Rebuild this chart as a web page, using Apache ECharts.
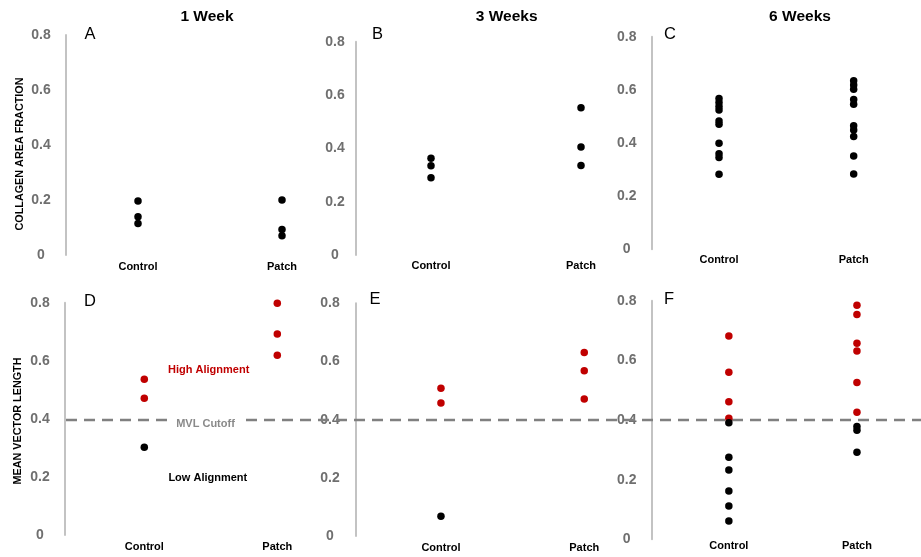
<!DOCTYPE html>
<html>
<head>
<meta charset="utf-8">
<title>Collagen area fraction and mean vector length</title>
<script src="https://cdn.jsdelivr.net/npm/echarts@6/dist/echarts.min.js"></script>
<style>
  html, body { margin: 0; padding: 0; background: #fff; }
  #chart { width: 921px; height: 557px; }
</style>
</head>
<body>
<div id="chart"></div>
<script>
// ---- data ----
const categories = ['Control', 'Patch'];
const weekTitles = ['1 Week', '3 Weeks', '6 Weeks'];
const panelLetters = ['A', 'B', 'C', 'D', 'E', 'F'];
const yTicks = [0, 0.2, 0.4, 0.6, 0.8];
const cutoff = 0.4;

// collagen area fraction (top row)
const collagenWeek1Control = [0.196, 0.139, 0.115];
const collagenWeek1Patch   = [0.200, 0.093, 0.070];
const collagenWeek3Control = [0.363, 0.335, 0.290];
const collagenWeek3Patch   = [0.552, 0.405, 0.336];
const collagenWeek6Control = [0.567, 0.552, 0.537, 0.524, 0.483, 0.471, 0.399, 0.360, 0.345, 0.282];
const collagenWeek6Patch   = [0.634, 0.618, 0.602, 0.564, 0.546, 0.465, 0.449, 0.424, 0.351, 0.283];

// mean vector length (bottom row)
const mvlWeek1Control = [0.536, 0.471, 0.302];
const mvlWeek1Patch   = [0.798, 0.692, 0.619];
const mvlWeek3Control = [0.508, 0.457, 0.068];
const mvlWeek3Patch   = [0.631, 0.568, 0.471];
const mvlWeek6Control = [0.682, 0.560, 0.461, 0.406, 0.391, 0.275, 0.232, 0.162, 0.112, 0.061];
const mvlWeek6Patch   = [0.785, 0.754, 0.657, 0.631, 0.526, 0.426, 0.378, 0.366, 0.292];

// ---- layout ----
const FONT = '"Liberation Sans", Arial, sans-serif';
const RED = '#c00000';
const AXIS_GREY = '#c3c3c3';
const LABEL_GREY = '#6f6f6f';

// each panel: grid box, y-axis offset (axis line left of grid), label margins
const panels = [
  { left: 66,    top: 35,    width: 288,   bottom: 255,   offset: 0,    lblMargin: 25, catMargin: 6, values: [collagenWeek1Control, collagenWeek1Patch], mvl: false },
  { left: 356,   top: 41.7,  width: 300,   bottom: 255,   offset: 0,    lblMargin: 21, catMargin: 5, values: [collagenWeek3Control, collagenWeek3Patch], mvl: false },
  { left: 651.7, top: 36.7,  width: 300,   bottom: 249.3, offset: 0,    lblMargin: 25, catMargin: 5, values: [collagenWeek6Control, collagenWeek6Patch], mvl: false },
  { left: 77.8,  top: 302.7, width: 266,   bottom: 535,   offset: 12.8, lblMargin: 25, catMargin: 6, values: [mvlWeek1Control, mvlWeek1Patch], mvl: true },
  { left: 369.3, top: 303.3, width: 286.6, bottom: 536,   offset: 13.3, lblMargin: 26, catMargin: 6, values: [mvlWeek3Control, mvlWeek3Patch], mvl: true },
  { left: 664.8, top: 300.7, width: 280.6, bottom: 539.3, offset: 13.1, lblMargin: 25, catMargin: 1, values: [mvlWeek6Control, mvlWeek6Patch], mvl: true }
];

const grids = [];
const xAxes = [];
const yAxes = [];
const series = [];

panels.forEach((p, i) => {
  grids.push({ left: p.left, top: p.top, width: p.width, height: p.bottom - p.top, containLabel: false });
  xAxes.push({
    type: 'category', gridIndex: i, data: categories, boundaryGap: true,
    axisLine: { show: false }, axisTick: { show: false }, splitLine: { show: false },
    axisLabel: { margin: p.catMargin, color: '#000', fontFamily: FONT, fontSize: 11, fontWeight: 'bold' }
  });
  yAxes.push({
    type: 'value', gridIndex: i, min: yTicks[0], max: yTicks[yTicks.length - 1], interval: 0.2,
    offset: p.offset,
    axisLine: { show: true, lineStyle: { color: AXIS_GREY, width: 2 } },
    axisTick: { show: false }, splitLine: { show: false },
    axisLabel: {
      margin: p.lblMargin, align: 'center', color: LABEL_GREY,
      fontFamily: FONT, fontSize: 14, fontWeight: 'bold',
      formatter: v => (Math.abs(v) < 1e-9 ? '0' : v.toFixed(1))
    }
  });
  p.values.forEach((vals, c) => {
    series.push({
      type: 'scatter', xAxisIndex: i, yAxisIndex: i,
      symbol: 'circle', symbolSize: 7.5, z: 3,
      itemStyle: {
        opacity: 1,
        color: p.mvl ? (params => (params.value[1] >= cutoff ? RED : '#000')) : '#000'
      },
      data: vals.map(v => [categories[c], v]),
      silent: true
    });
  });
});

// full-width overlay carrying the MVL cutoff line across the bottom row
grids.push({ left: 66, right: 0, top: 303, height: 234 });
xAxes.push({ type: 'value', gridIndex: 6, min: 0, max: 1, show: false });
yAxes.push({ type: 'value', gridIndex: 6, min: 0, max: 0.8, show: false });
series.push({
  type: 'line', xAxisIndex: 6, yAxisIndex: 6, symbol: 'none', silent: true, z: 2,
  lineStyle: { color: '#808080', width: 2.5, type: [11, 7] },
  data: [[0, cutoff], [1, cutoff]]
});

function txt(text, x, y, opts) {
  return Object.assign({
    type: 'text', x: x, y: y, z: 101,
    style: Object.assign({
      text: text, fill: '#000', align: 'center', verticalAlign: 'middle',
      fontFamily: FONT, fontSize: 11, fontWeight: 'bold'
    }, opts || {})
  });
}

const titleX = [207, 506.7, 800];
const letterPos = [[90, 34], [377.5, 34], [670, 34.5], [90, 301], [375, 299], [669, 299]];

const graphics = [];
weekTitles.forEach((t, i) => graphics.push(txt(t, titleX[i], 17, { fontSize: 15.5 })));
panelLetters.forEach((l, i) => graphics.push(txt(l, letterPos[i][0], letterPos[i][1], { fontSize: 16.5, fontWeight: 'normal' })));

// rotated axis titles
const collagenTitle = txt('COLLAGEN AREA FRACTION', 20, 154, { fontSize: 10.8 });
collagenTitle.rotation = Math.PI / 2;
const mvlTitle = txt('MEAN VECTOR LENGTH', 18, 421, { fontSize: 10.8 });
mvlTitle.rotation = Math.PI / 2;
graphics.push(collagenTitle, mvlTitle);

// annotations on panel D
graphics.push({ type: 'rect', z: 100, shape: { x: 169, y: 415, width: 76, height: 16 }, style: { fill: '#fff' } });
graphics.push(txt('MVL Cutoff', 205.5, 424, { fill: '#8a8a8a' }));
graphics.push(txt('High Alignment', 208.7, 370, { fill: RED }));
graphics.push(txt('Low Alignment', 207.8, 478, { fill: '#000' }));

const chart = echarts.init(document.getElementById('chart'), null, { renderer: 'canvas' });
chart.setOption({
  backgroundColor: '#fff',
  animation: false,
  grid: grids,
  xAxis: xAxes,
  yAxis: yAxes,
  series: series,
  graphic: graphics
});
</script>
</body>
</html>
